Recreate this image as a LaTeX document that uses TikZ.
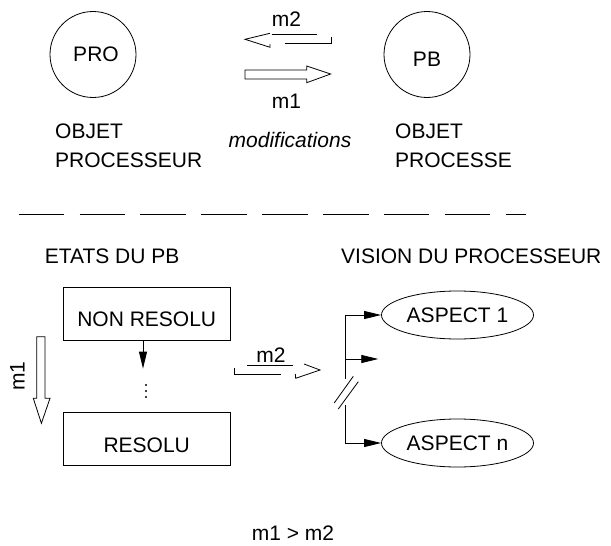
\documentclass[tikz,border=0pt]{standalone}
\usepackage{fontspec}
\setmainfont{Liberation Sans}
\usetikzlibrary{arrows.meta,shapes.geometric}
\begin{document}
\begin{tikzpicture}[x=1pt,y=-1pt,
  every node/.style={font=\fontsize{21}{25}\selectfont, inner sep=0pt},
  lbl/.style={anchor=base},
  lblw/.style={anchor=base west},
  ln/.style={line width=0.8pt},
  circ/.style={draw, circle, line width=0.8pt, minimum size=86pt},
  boxst/.style={draw, line width=0.8pt, minimum width=167pt, minimum height=53pt, text height=26pt, text depth=0pt},
  ell/.style={draw, ellipse, line width=0.8pt, minimum width=152pt, minimum height=48pt},
  tip/.style={ln, -{Triangle[length=17pt,width=8pt]}},
  hollow/.style={line width=0.8pt, line join=miter}
]
\useasboundingbox (0,0) rectangle (611,546);

% top objects
\node[circ] (pro) at (93,54.5) {\hspace*{6pt}PRO};
\node[circ, text height=23pt, text depth=0pt] (pb) at (427,54.5) {PB};

% m2 arrow (top, pointing left)
\draw[hollow] (270,33.3) -- (245,39.3) -- (270,47.3) -- (270,44);
\draw[hollow] (271.7,34.3) -- (317,34.3);
\draw[hollow] (285,43.3) -- (331,43.3) -- (331,36.7);
\node[lbl] (m2top) at (286.5,26) {m2};

% m1 arrow (top, pointing right)
\draw[hollow] (245,70) -- (306.7,70) -- (306.7,66) -- (330.7,74) -- (306.7,82.7) -- (306.7,79) -- (245,79) -- cycle;
\node[lbl] (m1top) at (286.5,108) {m1};

\node[lbl] (modif) at (290,147) {\itshape modifications};

\node[lblw] (obj1) at (55,138) {OBJET};
\node[lblw] (proc1) at (55,167) {PROCESSEUR};
\node[lblw] (obj2) at (395,138) {OBJET};
\node[lblw] (proc2) at (395,167) {PROCESSE};

% separator
\coordinate (sepL) at (18.6,214);
\coordinate (sepR) at (526,214);
\draw[ln, dash pattern=on 45.4pt off 15.5pt] (sepL) -- (sepR);

\node[lblw] (etats) at (44.6,263) {ETATS DU PB};
\node[lblw] (vision) at (341,263) {VISION DU PROCESSEUR};

% states
\node[boxst] (nonres) at (146.7,313.7) {NON RESOLU};
\node[boxst] (res) at (146.7,439.2) {RESOLU};
\draw[tip] ([xshift=-3.7pt]nonres.south) -- ++(0,28);
\fill (146,385) circle (1.1pt);
\fill (146,391) circle (1.1pt);
\fill (146,397) circle (1.1pt);

% m1 down hollow arrow
\draw[hollow] (36.7,336.7) -- (45,336.7) -- (45,398.3) -- (50,398.3) -- (41.4,423.3) -- (33.3,398.3) -- (36.7,398.3) -- cycle;
\node[rotate=90] (m1side) at (17.5,376) {m1};

% m2 middle arrow (pointing right)
\draw[hollow] (304,364) -- (320,370) -- (295.7,378.3) -- (295.3,374);
\draw[hollow] (247.3,365) -- (293.3,365);
\draw[hollow] (234.7,368.3) -- (234.7,374) -- (280.7,374);
\node[lbl] (m2mid) at (271,362) {m2};

% aspects
\node[ell] (a1) at (457.5,315) {ASPECT 1};
\node[ell] (an) at (457.5,443) {ASPECT n};
\coordinate (vtop) at (345,315);
\coordinate (vbrk1) at (345,379.3);
\coordinate (vbrk2) at (345,405);
\coordinate (vmid) at (345,359);
\coordinate (vmidend) at (378.3,359);
\coordinate (vbot) at (345,443);
\draw[ln] (vtop) -- (vbrk1);
\draw[ln] (vbrk2) -- (vbot);
\draw[tip] (vtop) -- (a1.west);
\draw[tip] (vmid) -- (vmidend);
\draw[tip] (vbot) -- (an.west);
\draw[ln] (334.2,403) -- (353.3,376.3);
\draw[ln] (338.3,409) -- (358.3,381.7);

\node[lbl] (cmp) at (293,540) {m1 > m2};
\end{tikzpicture}
\end{document}
